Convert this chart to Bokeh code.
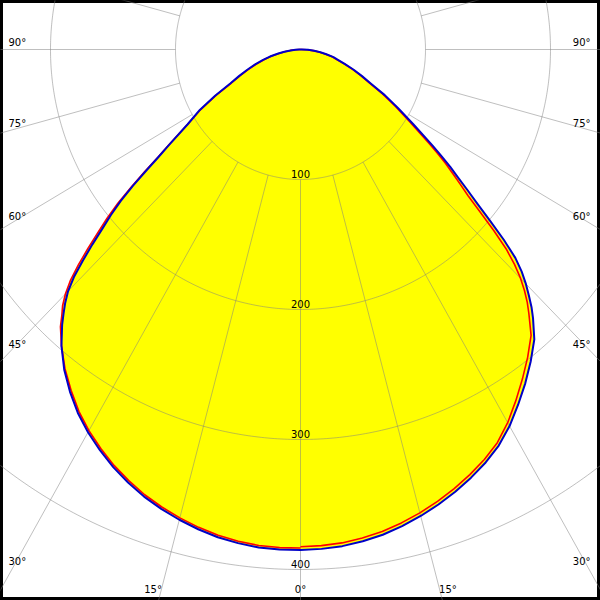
import numpy as np
from bokeh.plotting import figure
from bokeh.models import ColumnDataSource, Range1d
from bokeh.embed import file_html
from bokeh.resources import INLINE
from bokeh.core.properties import value

# ---- data (cd/klm) ----
gamma = [0, 2.5, 5, 7.5, 10, 12.5, 15, 17.5, 20, 22.5, 25, 27.5, 30, 32.5, 35, 37.5,
         40, 42, 43, 44, 45, 46, 47, 48, 49, 50, 51, 52, 53, 54, 55,
         57.5, 60, 62.5, 65, 67.5, 70, 72.5, 75, 77.5, 80, 82.5, 85, 87.5, 90]
# C0 plane (blue, right half)
c0 = [385, 384.5, 383.5, 381.5, 379, 375.5, 371.5, 367, 362, 356.5, 350.5, 343.5, 334.5, 324, 313.5, 302.5,
      291, 278, 271, 263, 255, 246, 235, 219, 201, 185, 172, 160, 150, 139, 129,
      107, 90, 76, 62, 53, 45, 37, 31, 27, 21, 16, 11, 6, 1]
# C180 plane (blue, left half)
c180 = [385, 385, 384.5, 383, 381, 378, 374.5, 370.5, 366, 360.5, 354.5, 347.5, 340, 331.5, 321.5, 310.5,
        297.5, 285, 278, 271, 263, 252, 238, 224, 210, 198, 185, 170, 154, 140, 129,
        107, 93, 77, 62, 53, 45, 38, 31, 25, 18, 13, 8, 4, 1]
# C90 plane (red, right half)
c90 = [382.5, 382, 381, 379, 376.5, 373, 369, 364.5, 359.5, 354, 348, 341, 331.5, 320.5, 309.5, 298.5,
       287, 273, 266, 258, 249, 238, 225, 208, 190, 175, 164, 154, 145, 135, 125,
       104, 88, 74, 61, 52, 44, 37, 30, 26, 20, 15, 10, 5, 1]
# C270 plane (red, left half)
c270 = [383.5, 383.5, 383, 381.5, 379.5, 376.5, 373, 369, 364.5, 359, 353, 346, 338.5, 330, 320, 309.5,
        297.5, 287, 280, 274, 266, 256, 243, 229, 215, 202, 188, 172, 156, 141, 130,
        107, 92, 76, 61, 52, 44, 37, 30, 24, 17, 12, 8, 4, 1]

ring_values = [100, 200, 300, 400, 500]
ring_labels = ["100", "200", "300", "400"]
side_angles = [30, 45, 60, 75, 90]
side_labels = ["30°", "45°", "60°", "75°", "90°"]
bottom_angles = [0, 15]
bottom_labels = ["0°", "15°"]

# ---- layout: picture px -> data units ----
SX = 1.25   # px per unit horizontally
SY = 1.30   # px per unit vertically
CX, CY = 300.0, 49.0  # pole position in px
REF = 600.0
W = H = 600
TXT_UP = 4.5  # px correction of text baseline

x0, x1 = -CX / SX, (REF - CX) / SX
y0, y1 = -(REF - CY) / SY, CY / SY

p = figure(width=W, height=H, output_backend="svg", toolbar_location=None,
           x_range=Range1d(x0, x1), y_range=Range1d(y0, y1),
           min_border=0, background_fill_color="white", border_fill_color="white")
p.axis.visible = False
p.grid.visible = False
p.outline_line_color = "black"
p.outline_line_width = 5


def curve(right, left):
    g = np.radians(np.array(gamma, dtype=float))
    rr = np.array(right, dtype=float)
    rl = np.array(left, dtype=float)
    xr, yr = rr * np.sin(g), -rr * np.cos(g)
    xl, yl = -rl * np.sin(g), -rl * np.cos(g)
    xs = np.concatenate([xr, xl[::-1]])
    ys = np.concatenate([yr, yl[::-1]])
    return xs, ys


bx, by = curve(c0, c180)
rx, ry = curve(c90, c270)

# yellow fill
p.patch(bx, by, fill_color="#ffff00", line_color=None)
p.patch(rx, ry, fill_color="#ffff00", line_color=None)

# polar grid
t = np.linspace(0, 2 * np.pi, 721)
gx, gy = [], []
for r in ring_values:
    gx.append(list(r * np.cos(t)))
    gy.append(list(r * np.sin(t)))
for a in range(-180, 181, 15):
    ar = np.radians(a)
    gx.append([100 * np.sin(ar), 900 * np.sin(ar)])
    gy.append([-100 * np.cos(ar), -900 * np.cos(ar)])
p.multi_line(gx, gy, line_color="#808080", line_alpha=0.5, line_width=1)

# curves
p.line(rx, ry, line_color="#ff0000", line_width=1.6, line_join="round")
p.line(bx, by, line_color="#0000c8", line_width=2, line_join="round")

font = value("DejaVu Sans")
fs = "10px"

# ring labels
rsrc = ColumnDataSource(dict(x=[0.0] * len(ring_labels),
                             y=[-v + (1.5 + TXT_UP) / SY for v in ring_values[:len(ring_labels)]],
                             t=ring_labels))
p.text("x", "y", text="t", source=rsrc, text_align="center", text_baseline="alphabetic",
       text_font=font, text_font_size=fs, text_color="black")

# side labels
lx, ly, lt = [], [], []
rxs, rys, rts = [], [], []
for a, lab in zip(side_angles, side_labels):
    xin = (CX - 10) / SX
    yline_px = CY + xin / np.tan(np.radians(a)) * SY if a != 90 else CY
    ybase_px = min(yline_px - 2.5, 565) - TXT_UP
    yd = -(ybase_px - CY) / SY
    lx.append(x0 + 8 / SX); ly.append(yd); lt.append(lab)
    rxs.append(x1 - 10 / SX); rys.append(yd); rts.append(lab)
p.text(lx, ly, text=lt, text_align="left", text_baseline="alphabetic",
       text_font=font, text_font_size=fs, text_color="black")
p.text(rxs, rys, text=rts, text_align="right", text_baseline="alphabetic",
       text_font=font, text_font_size=fs, text_color="black")

# bottom labels
bxs, bys, bts = [], [], []
ybot = -(593 - TXT_UP - CY) / SY
for a, lab in zip(bottom_angles, bottom_labels):
    yl = -(590 - CY) / SY
    xl = -yl * np.tan(np.radians(a))
    if a == 0:
        bxs.append(0.0); bys.append(ybot); bts.append(lab)
    else:
        bxs.append(-xl - 8 / SX); bys.append(ybot); bts.append(lab)
        bxs.append(xl + 8 / SX); bys.append(ybot); bts.append(lab)
p.text(bxs, bys, text=bts, text_align="center", text_baseline="alphabetic",
       text_font=font, text_font_size=fs, text_color="black")

open("out.html", "w").write(file_html(p, INLINE))
